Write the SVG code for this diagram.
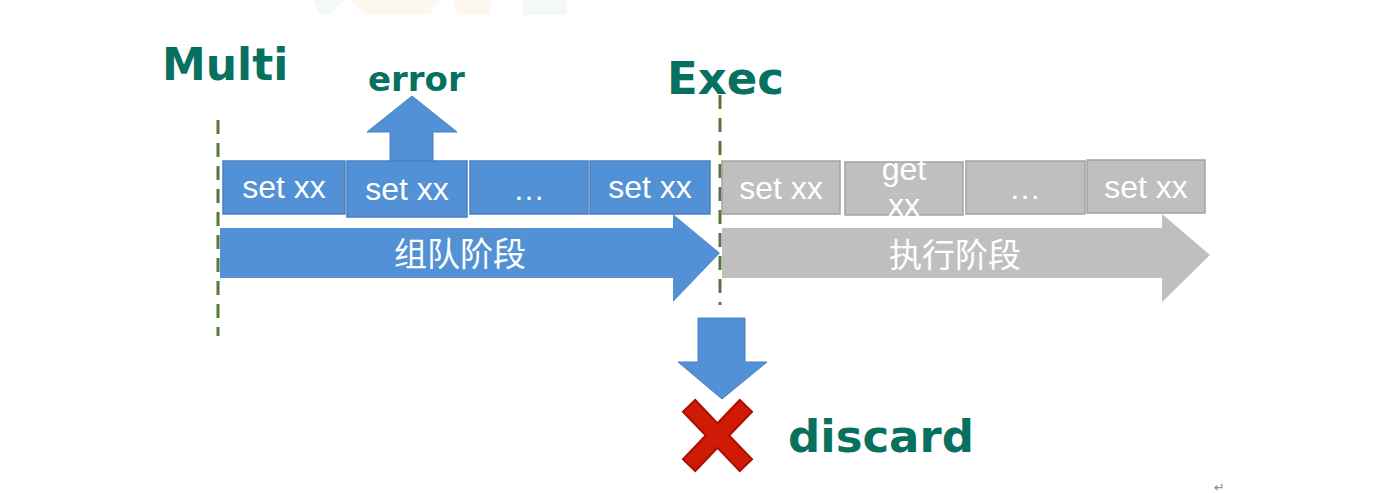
<svg xmlns="http://www.w3.org/2000/svg" width="1396" height="493" viewBox="0 0 1396 493">
<style>
.title{font-family:"DejaVu Sans",Verdana,sans-serif;font-weight:bold;fill:#07705f}
.bbox{fill:#5291d6;stroke:#4a7fbf;stroke-width:1.5}
.gbox{fill:#bfbfbf;stroke:#a3a3a3;stroke-width:1.5}
.lbl{font-family:"Liberation Sans",Arial,sans-serif;font-size:32px;fill:#ffffff;text-anchor:middle}
.cjk{font-family:"Noto Sans CJK SC","Liberation Sans",sans-serif;font-size:33px;fill:#ffffff;text-anchor:middle}
.dash{stroke:#55793a;stroke-width:3;stroke-dasharray:14 9;fill:none}
</style>
<rect width="1396" height="493" fill="#ffffff"/>
<g id="watermark" opacity="0.35">
<polygon points="313,0 345,0 330,14 320,14" fill="#dcefed"/>
<polygon points="350,0 440,0 430,15 365,15" fill="#fde9cf"/>
<polygon points="453,0 492,0 490,15 458,15" fill="#fde9cf"/>
<rect x="523" y="0" width="44" height="15" fill="#dcefed"/>
</g>
<g id="connectors">
<line class="dash" x1="218" y1="120" x2="218" y2="336"/>
<line class="dash" x1="720" y1="95" x2="720" y2="305"/>
</g>
<g id="multi"><text class="title" x="162" y="80" font-size="44">Multi</text></g>
<g id="exec"><text class="title" x="667" y="94" font-size="45">Exec</text></g>
<g id="error">
<text class="title" x="368" y="91" font-size="34">error</text>
<polygon points="412,96 457,132 433,132 433,166 390,166 390,132 367,132" fill="#5291d6" stroke="#4a7fbf" stroke-width="1"/>
</g>
<g id="queue-arrow">
<polygon points="220,228 673,228 673,214 720,253 673,302 673,278 220,278" fill="#5291d6"/>
<text class="cjk" x="460" y="266">组队阶段</text>
</g>
<g id="exec-arrow">
<polygon points="722,228 1162,228 1162,214 1210,255 1162,302 1162,278 722,278" fill="#bfbfbf"/>
<text class="cjk" x="955" y="267">执行阶段</text>
</g>
<g id="q1"><rect class="bbox" x="223" y="161" width="122" height="53"/><text class="lbl" x="284" y="198">set xx</text></g>
<g id="q2"><rect class="bbox" x="347" y="161" width="120" height="56"/><text class="lbl" x="407" y="200">set xx</text></g>
<g id="q3"><rect class="bbox" x="470" y="161" width="118" height="53"/><text class="lbl" x="529" y="200">…</text></g>
<g id="q4"><rect class="bbox" x="590" y="161" width="120" height="53"/><text class="lbl" x="650" y="198">set xx</text></g>
<g id="e1"><rect class="gbox" x="722" y="161" width="118" height="53"/><text class="lbl" x="781" y="199">set xx</text></g>
<g id="e2"><rect class="gbox" x="845" y="162" width="118" height="53"/><text class="lbl" x="904" y="180">get</text><text class="lbl" x="904" y="216">xx</text></g>
<g id="e3"><rect class="gbox" x="966" y="161" width="119" height="53"/><text class="lbl" x="1025" y="199">…</text></g>
<g id="e4"><rect class="gbox" x="1087" y="160" width="118" height="53"/><text class="lbl" x="1146" y="198">set xx</text></g>
<g id="discard-arrow">
<polygon points="698,318 745,318 745,362 767,362 722,399 678,362 698,362" fill="#5291d6" stroke="#4a7fbf" stroke-width="1"/>
</g>
<g id="discard">
<path d="M695,412 L740,459 M740,412 L695,459" stroke="#a80f00" stroke-width="19" stroke-linecap="square"/>
<path d="M695,412 L740,459 M740,412 L695,459" stroke="#d11a05" stroke-width="15" stroke-linecap="square"/>
<text class="title" x="788" y="452" font-size="45">discard</text>
</g>
<text x="1214" y="492" font-family="DejaVu Sans,sans-serif" font-size="13" fill="#888888">↵</text>
</svg>
